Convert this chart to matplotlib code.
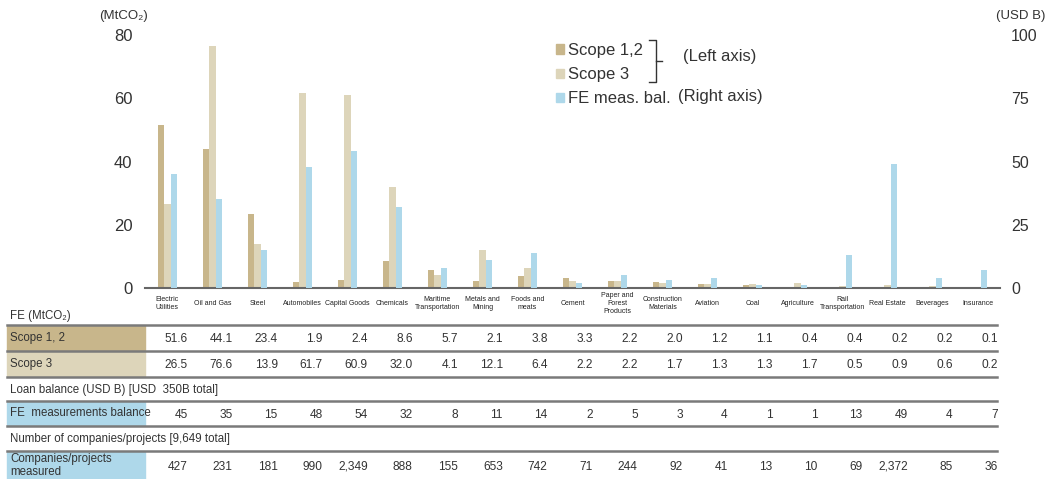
import numpy as np
import matplotlib.pyplot as plt
import matplotlib.transforms as mtransforms
from matplotlib.patches import Rectangle, Patch
from matplotlib.lines import Line2D

plt.rcParams['font.family'] = ['Liberation Sans', 'DejaVu Sans']

# data
categories = ['Electric\nUtilities', 'Oil and Gas', 'Steel', 'Automobiles', 'Capital Goods',
              'Chemicals', 'Maritime\nTransportation', 'Metals and\nMining', 'Foods and\nmeats',
              'Cement', 'Paper and\nForest\nProducts', 'Construction\nMaterials', 'Aviation',
              'Coal', 'Agriculture', 'Rail\nTransportation', 'Real Estate', 'Beverages', 'Insurance']
scope12 = [51.6, 44.1, 23.4, 1.9, 2.4, 8.6, 5.7, 2.1, 3.8, 3.3, 2.2, 2.0, 1.2, 1.1, 0.4, 0.4, 0.2, 0.2, 0.1]
scope3 = [26.5, 76.6, 13.9, 61.7, 60.9, 32.0, 4.1, 12.1, 6.4, 2.2, 2.2, 1.7, 1.3, 1.3, 1.7, 0.5, 0.9, 0.6, 0.2]
fe_balance = [45, 35, 15, 48, 54, 32, 8, 11, 14, 2, 5, 3, 4, 1, 1, 13, 49, 4, 7]
companies = [427, 231, 181, 990, 2349, 888, 155, 653, 742, 71, 244, 92, 41, 13, 10, 69, 2372, 85, 36]
left_ticks = [0, 20, 40, 60, 80]
right_ticks = [0, 25, 50, 75, 100]

c_s12 = '#c8b68b'
c_s3 = '#ddd5ba'
c_fe = '#aed8ea'
txt = '#333333'

W, H = 1050, 479
fy = lambda y: 1 - y / H

fig = plt.figure(figsize=(W / 100, H / 100), dpi=100)
ax = fig.add_axes([145 / W, fy(288), 855 / W, 253 / H])
ax2 = ax.twinx()

x = np.arange(len(categories))
w = 0.145
ax.bar(x - w, scope12, w, color=c_s12, label='Scope 1,2')
ax.bar(x, scope3, w, color=c_s3, label='Scope 3')
ax2.bar(x + w, fe_balance, w, color=c_fe, label='FE meas. bal.')

ax.set_xlim(-0.5, len(categories) - 0.5)
ax.set_ylim(0, 80)
ax2.set_ylim(0, 100)
ax.set_yticks(left_ticks)
ax2.set_yticks(right_ticks)
ax.set_xticks(x)
ax.set_xticklabels(categories)
for s in ['top', 'left', 'right']:
    ax.spines[s].set_visible(False)
for s in ax2.spines.values():
    s.set_visible(False)
ax.spines['bottom'].set_color('#666666')
ax.spines['bottom'].set_linewidth(1.5)
ax.tick_params(axis='y', length=0, pad=9, labelsize=12, labelcolor=txt)
ax2.tick_params(axis='y', length=0, pad=8, labelsize=11.5, labelcolor=txt)
ax.tick_params(axis='x', length=0, pad=11, labelsize=5, labelcolor='#222222')
for t in ax.get_xticklabels():
    t.set_va('center')

fig.text(123 / W, fy(16), '(MtCO₂)', ha='center', va='center', fontsize=9.5, color=txt)
fig.text(1021 / W, fy(16), '(USD B)', ha='center', va='center', fontsize=9.5, color=txt)

# legend
handles = [Patch(color=c_s12), Patch(color=c_s3), Patch(color=c_fe)]
labels = ['Scope 1,2', 'Scope 3', 'FE meas. bal.']
fig.legend(handles, labels, loc='upper left', bbox_to_anchor=(556 / W, fy(43)),
           frameon=False, fontsize=12, handlelength=0.5, handleheight=0.5,
           handletextpad=0.2, labelspacing=0.55, borderaxespad=0, borderpad=0,
           labelcolor=txt)
bx = 656
fig.add_artist(Line2D([(bx - 7) / W, bx / W, bx / W, (bx - 7) / W],
                      [fy(40), fy(40), fy(82), fy(82)], color=txt, lw=1))
fig.add_artist(Line2D([bx / W, (bx + 6) / W], [fy(61), fy(61)], color=txt, lw=1))
fig.text(683 / W, fy(56), '(Left axis)', va='center', fontsize=12, color=txt)
fig.text(678 / W, fy(97), '(Right axis)', va='center', fontsize=12, color=txt)

# table below the chart
tr = mtransforms.blended_transform_factory(ax.transData, fig.transFigure)
x0, x1, xl = 7, 997, 145
for y in [325, 351, 377, 401, 426, 451]:
    fig.add_artist(Line2D([x0 / W, x1 / W], [fy(y), fy(y)], color='#7a7a7a', lw=1.8))

fs_lab = 8.3
fig.text(10 / W, fy(316), 'FE (MtCO₂)', va='center', fontsize=fs_lab, color=txt)
fig.text(10 / W, fy(390), 'Loan balance (USD B) [USD  350B total]', va='center',
         fontsize=fs_lab, color=txt)
fig.text(10 / W, fy(439), 'Number of companies/projects [9,649 total]', va='center',
         fontsize=fs_lab, color=txt)

rows = [
    ('Scope 1, 2', c_s12, 326, 350, [f'{v:.1f}' for v in scope12]),
    ('Scope 3', c_s3, 352, 376, [f'{v:.1f}' for v in scope3]),
    ('FE  measurements balance', c_fe, 402, 425, [f'{v}' for v in fe_balance]),
    ('Companies/projects\nmeasured', c_fe, 452, 479, [f'{v:,}' for v in companies]),
]
for label, col, ytop, ybot, vals in rows:
    fig.add_artist(Rectangle((x0 / W, fy(ybot)), (xl - x0) / W, (ybot - ytop) / H,
                             color=col, zorder=0))
    ymid = (ytop + ybot) / 2
    fig.text(10 / W, fy(ymid), label, va='center', fontsize=fs_lab, color=txt,
             linespacing=1.1)
    for i, v in enumerate(vals):
        ax.text(i + 0.45, fy(ymid + 4), v, transform=tr, ha='right', va='baseline',
                fontsize=8.6, color=txt, clip_on=False)

fig.savefig('out.png', dpi=100)
